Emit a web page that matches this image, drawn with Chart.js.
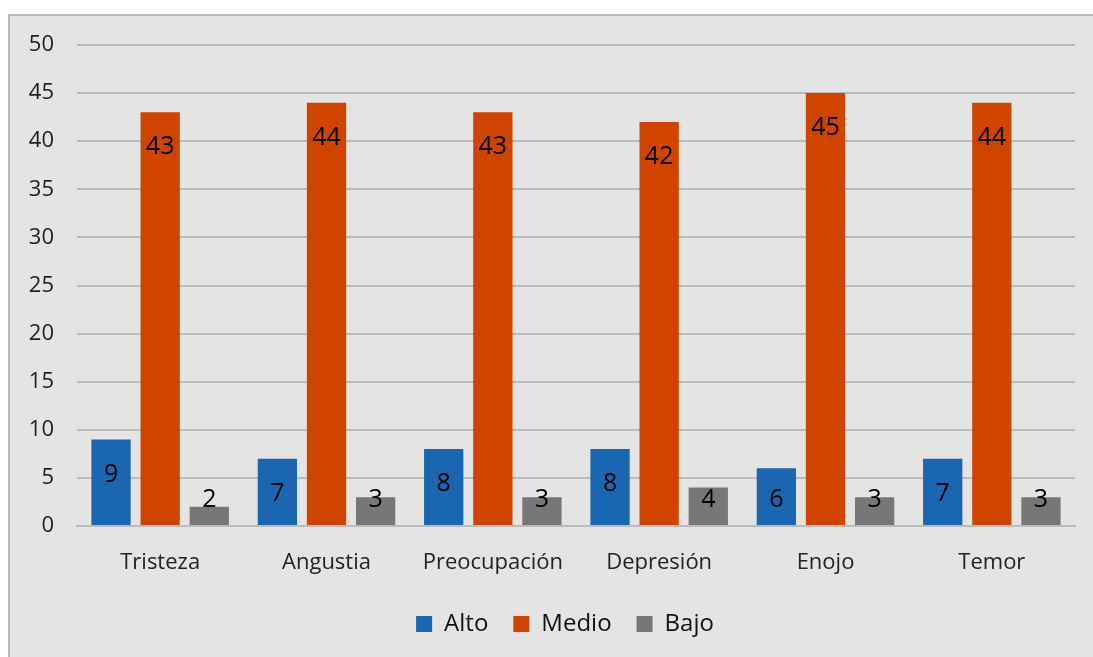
<!DOCTYPE html>
<html lang="es">
<head>
    <meta charset="UTF-8">
    <script src="https://cdn.jsdelivr.net/npm/chart.js"></script>
    <title>Emociones</title>
    <style>
        body {
            margin: 0;
            background: #ffffff;
        }
        #wrap {
            width: 1093px;
            height: 657px;
        }
    </style>
</head>
<body>
    <div id="wrap">
        <canvas id="emocionesChart"></canvas>
    </div>
<script>
    const categorias = ['Tristeza', 'Angustia', 'Preocupación', 'Depresión', 'Enojo', 'Temor'];
    const alto = [9, 7, 8, 8, 6, 7];
    const medio = [43, 44, 43, 42, 45, 44];
    const bajo = [2, 3, 3, 4, 3, 3];
    const yTicks = [0, 5, 10, 15, 20, 25, 30, 35, 40, 45, 50];

    const fuente = "'Open Sans', 'Noto Sans', sans-serif";

    // gray box behind the chart, like the spreadsheet chart area
    const fondo = {
        id: 'fondo',
        beforeDraw(chart) {
            const ctx = chart.ctx;
            ctx.save();
            ctx.fillStyle = '#e4e4e4';
            ctx.fillRect(8, 14, chart.width, chart.height);
            ctx.strokeStyle = '#b9b9b9';
            ctx.lineWidth = 2;
            ctx.beginPath();
            ctx.moveTo(9, chart.height);
            ctx.lineTo(9, 15);
            ctx.lineTo(chart.width, 15);
            ctx.stroke();
            ctx.restore();
        }
    };

    // centre the legend under the plot area instead of the whole canvas
    const leyendaCentrada = {
        id: 'leyendaCentrada',
        afterUpdate(chart) {
            const lg = chart.legend;
            if (!lg) return;
            const shift = (chart.chartArea.left + chart.chartArea.right) / 2 - (lg.left + lg.right) / 2 - 11;
            lg.left += shift;
            lg.right += shift;
        }
    };

    // value labels near the top of each bar
    const etiquetas = {
        id: 'etiquetas',
        afterDatasetsDraw(chart) {
            const ctx = chart.ctx;
            ctx.save();
            ctx.font = '25px ' + fuente;
            ctx.fillStyle = '#000000';
            ctx.textAlign = 'center';
            ctx.textBaseline = 'middle';
            chart.data.datasets.forEach((ds, i) => {
                chart.getDatasetMeta(i).data.forEach((bar, j) => {
                    const y = Math.min(bar.y + 35, bar.base - 25);
                    ctx.fillText(ds.data[j], bar.x, y);
                });
            });
            ctx.restore();
        }
    };

    new Chart(document.getElementById('emocionesChart'), {
        type: 'bar',
        data: {
            labels: categorias,
            datasets: [
                {label: 'Alto', data: alto, backgroundColor: '#1a66b0'},
                {label: 'Medio', data: medio, backgroundColor: '#cf4500'},
                {label: 'Bajo', data: bajo, backgroundColor: '#777777'}
            ]
        },
        options: {
            responsive: true,
            maintainAspectRatio: false,
            animation: false,
            categoryPercentage: 0.886,
            barPercentage: 0.8,
            layout: {padding: {left: 20, right: 18, top: 45, bottom: 11}},
            scales: {
                x: {
                    grid: {display: false},
                    border: {color: '#bababa', width: 2},
                    ticks: {color: '#222222', font: {family: fuente, size: 22}, padding: 16},
                    afterFit: s => { s.height = 61; }
                },
                y: {
                    min: 0,
                    max: 50,
                    afterBuildTicks: s => { s.ticks = yTicks.map(v => ({value: v})); },
                    grid: {color: '#bababa', lineWidth: 2, drawTicks: false},
                    border: {display: false},
                    ticks: {color: '#222222', font: {family: fuente, size: 22}, padding: 23},
                    afterFit: s => { s.width = 57; }
                }
            },
            plugins: {
                legend: {
                    position: 'bottom',
                    labels: {
                        color: '#111111',
                        font: {family: fuente, size: 24},
                        boxWidth: 16,
                        boxHeight: 16,
                        padding: 25
                    }
                },
                tooltip: {enabled: false}
            }
        },
        plugins: [fondo, leyendaCentrada, etiquetas]
    });
</script>
</body>
</html>
